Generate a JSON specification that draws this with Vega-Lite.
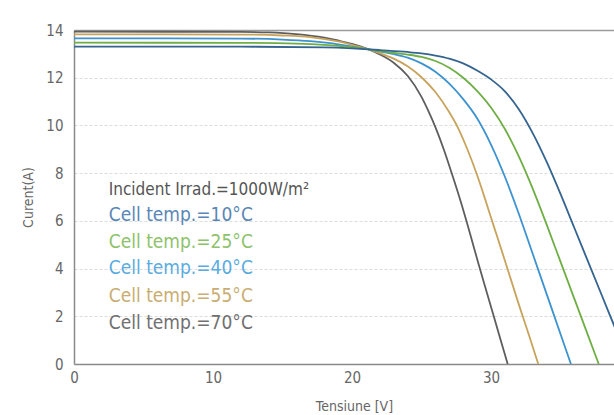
{
  "$schema": "https://vega.github.io/schema/vega-lite/v6.json",
  "width": 540,
  "height": 334,
  "autosize": "none",
  "padding": {"left": 74, "top": 30, "right": 0, "bottom": 51},
  "background": "white",
  "config": {
    "view": {"stroke": null},
    "font": "Liberation Sans Narrow, DejaVu Sans Condensed, sans-serif"
  },
  "datasets": {
    "curves": [
      {"s":"70","V":0,"I":13.93},{"s":"70","V":12,"I":13.92},{"s":"70","V":14,"I":13.9},{"s":"70","V":16,"I":13.83},{"s":"70","V":18,"I":13.68},{"s":"70","V":19,"I":13.56},{"s":"70","V":20,"I":13.42},{"s":"70","V":21.2,"I":13.19},{"s":"70","V":22,"I":12.98},{"s":"70","V":23,"I":12.63},{"s":"70","V":24,"I":12.08},{"s":"70","V":25,"I":11.2},{"s":"70","V":25.5,"I":10.6},{"s":"70","V":26,"I":9.93},{"s":"70","V":26.6,"I":9.0},{"s":"70","V":27.2,"I":7.95},{"s":"70","V":27.8,"I":6.85},{"s":"70","V":28.5,"I":5.45},{"s":"70","V":29.1,"I":4.2},{"s":"70","V":29.7,"I":3.0},{"s":"70","V":30.2,"I":2.0},{"s":"70","V":30.7,"I":1.0},{"s":"70","V":31.2,"I":0},
      {"s":"55","V":0,"I":13.82},{"s":"55","V":12,"I":13.81},{"s":"55","V":15,"I":13.77},{"s":"55","V":17,"I":13.7},{"s":"55","V":19,"I":13.52},{"s":"55","V":20,"I":13.38},{"s":"55","V":21.2,"I":13.19},{"s":"55","V":22,"I":13.03},{"s":"55","V":23,"I":12.8},{"s":"55","V":24,"I":12.48},{"s":"55","V":25,"I":12.02},{"s":"55","V":26,"I":11.4},{"s":"55","V":27,"I":10.55},{"s":"55","V":27.6,"I":9.93},{"s":"55","V":28.3,"I":9.0},{"s":"55","V":29.0,"I":7.92},{"s":"55","V":29.6,"I":6.87},{"s":"55","V":30.2,"I":5.78},{"s":"55","V":30.8,"I":4.7},{"s":"55","V":31.4,"I":3.6},{"s":"55","V":32.0,"I":2.5},{"s":"55","V":32.7,"I":1.27},{"s":"55","V":33.4,"I":0},
      {"s":"40","V":0,"I":13.65},{"s":"40","V":12,"I":13.64},{"s":"40","V":15,"I":13.6},{"s":"40","V":17,"I":13.53},{"s":"40","V":19,"I":13.4},{"s":"40","V":20,"I":13.3},{"s":"40","V":21.2,"I":13.19},{"s":"40","V":22,"I":13.1},{"s":"40","V":23,"I":12.99},{"s":"40","V":24,"I":12.84},{"s":"40","V":25,"I":12.6},{"s":"40","V":26,"I":12.25},{"s":"40","V":27,"I":11.75},{"s":"40","V":28,"I":11.1},{"s":"40","V":29,"I":10.3},{"s":"40","V":30,"I":9.2},{"s":"40","V":31,"I":7.85},{"s":"40","V":32,"I":6.3},{"s":"40","V":33,"I":4.62},{"s":"40","V":34,"I":2.94},{"s":"40","V":35,"I":1.26},{"s":"40","V":35.75,"I":0},
      {"s":"25","V":0,"I":13.47},{"s":"25","V":12,"I":13.46},{"s":"25","V":16,"I":13.43},{"s":"25","V":18,"I":13.38},{"s":"25","V":20,"I":13.28},{"s":"25","V":21.2,"I":13.19},{"s":"25","V":22,"I":13.12},{"s":"25","V":23,"I":13.04},{"s":"25","V":24,"I":12.97},{"s":"25","V":25,"I":12.87},{"s":"25","V":26,"I":12.7},{"s":"25","V":27,"I":12.42},{"s":"25","V":28,"I":12.0},{"s":"25","V":29,"I":11.45},{"s":"25","V":30,"I":10.75},{"s":"25","V":31,"I":9.85},{"s":"25","V":32,"I":8.7},{"s":"25","V":33,"I":7.35},{"s":"25","V":34,"I":5.85},{"s":"25","V":35,"I":4.29},{"s":"25","V":36,"I":2.73},{"s":"25","V":37,"I":1.17},{"s":"25","V":37.75,"I":0},
      {"s":"10","V":0,"I":13.3},{"s":"10","V":12,"I":13.3},{"s":"10","V":18,"I":13.27},{"s":"10","V":20,"I":13.23},{"s":"10","V":21.2,"I":13.19},{"s":"10","V":22,"I":13.16},{"s":"10","V":24,"I":13.08},{"s":"10","V":25,"I":13.02},{"s":"10","V":26,"I":12.93},{"s":"10","V":27,"I":12.8},{"s":"10","V":28,"I":12.6},{"s":"10","V":29,"I":12.3},{"s":"10","V":30,"I":11.93},{"s":"10","V":31,"I":11.43},{"s":"10","V":32,"I":10.68},{"s":"10","V":33,"I":9.68},{"s":"10","V":34,"I":8.48},{"s":"10","V":35,"I":7.13},{"s":"10","V":36,"I":5.7},{"s":"10","V":37,"I":4.27},{"s":"10","V":38,"I":2.84},{"s":"10","V":39,"I":1.41},{"s":"10","V":40,"I":0}
    ],
    "labels": [
      {"s":"irr","V":2.5,"I":7.29,"t":"Incident Irrad.=1000W/m²"},
      {"s":"10","V":2.5,"I":6.24,"t":"Cell temp.=10°C"},
      {"s":"25","V":2.5,"I":5.11,"t":"Cell temp.=25°C"},
      {"s":"40","V":2.5,"I":4.02,"t":"Cell temp.=40°C"},
      {"s":"55","V":2.5,"I":2.85,"t":"Cell temp.=55°C"},
      {"s":"70","V":2.5,"I":1.72,"t":"Cell temp.=70°C"}
    ]
  },
  "encoding": {
    "x": {
      "field": "V", "type": "quantitative",
      "scale": {"domain": [0, 38.85], "nice": false, "zero": true},
      "axis": {
        "title": "Tensiune [V]", "values": [0, 10, 20, 30],
        "grid": false, "ticks": false, "domainColor": "#8a8a8a", "domainWidth": 1.5,
        "labelFont": "Liberation Sans Narrow, DejaVu Sans Condensed, sans-serif",
        "labelFontSize": 15, "labelColor": "#666", "labelPadding": 6, "labelFlush": false,
        "titleFont": "Liberation Sans Narrow, DejaVu Sans Condensed, sans-serif",
        "titleFontSize": 14, "titleFontWeight": "normal", "titleColor": "#666",
        "titleX": 280, "titlePadding": 14
      }
    },
    "y": {
      "field": "I", "type": "quantitative",
      "scale": {"domain": [0, 14], "nice": false},
      "axis": {
        "title": "Curent(A)", "values": [0, 2, 4, 6, 8, 10, 12, 14],
        "ticks": false, "domainColor": "#8a8a8a", "domainWidth": 1.5,
        "gridColor": {"condition": {"test": "datum.value == 14", "value": "#9a9a9a"}, "value": "#dcdcdc"},
        "gridDash": {"condition": {"test": "datum.value == 14", "value": []}, "value": [3, 2]},
        "gridWidth": {"condition": {"test": "datum.value == 14", "value": 1.5}, "value": 1},
        "labelFont": "Liberation Sans Narrow, DejaVu Sans Condensed, sans-serif",
        "labelFontSize": 15, "labelColor": "#666", "labelPadding": 11,
        "titleFont": "Liberation Sans Narrow, DejaVu Sans Condensed, sans-serif",
        "titleFontSize": 14, "titleFontWeight": "normal", "titleColor": "#666", "titlePadding": 10
      }
    }
  },
  "layer": [
    {
      "data": {"name": "curves"},
      "mark": {"type": "line", "strokeWidth": 1.8, "clip": true, "interpolate": "monotone"},
      "encoding": {
        "color": {
          "field": "s", "type": "nominal", "legend": null,
          "scale": {"domain": ["10", "25", "40", "55", "70"], "range": ["#34648f", "#6fae45", "#3d93cf", "#c8a35c", "#5e5e5e"]}
        },
        "order": {"field": "V", "type": "quantitative"}
      }
    },
    {
      "data": {"name": "labels"},
      "transform": [{"filter": "datum.s == 'irr'"}],
      "mark": {"type": "text", "align": "left", "baseline": "middle", "fontSize": 17, "color": "#555555", "font": "Liberation Sans Narrow, DejaVu Sans Condensed, sans-serif"},
      "encoding": {
        "text": {"field": "t"}
      }
    },
    {
      "data": {"name": "labels"},
      "transform": [{"filter": "datum.s != 'irr'"}],
      "mark": {"type": "text", "align": "left", "baseline": "middle", "fontSize": 19, "font": "Liberation Sans Narrow, DejaVu Sans Condensed, sans-serif"},
      "encoding": {
        "text": {"field": "t"},
        "color": {
          "field": "s", "type": "nominal", "legend": null,
          "scale": {"domain": ["10", "25", "40", "55", "70"], "range": ["#5a86b5", "#8dc26a", "#5aabdf", "#c9ad72", "#707070"]}
        }
      }
    }
  ],
  "resolve": {"scale": {"color": "independent"}}
}
